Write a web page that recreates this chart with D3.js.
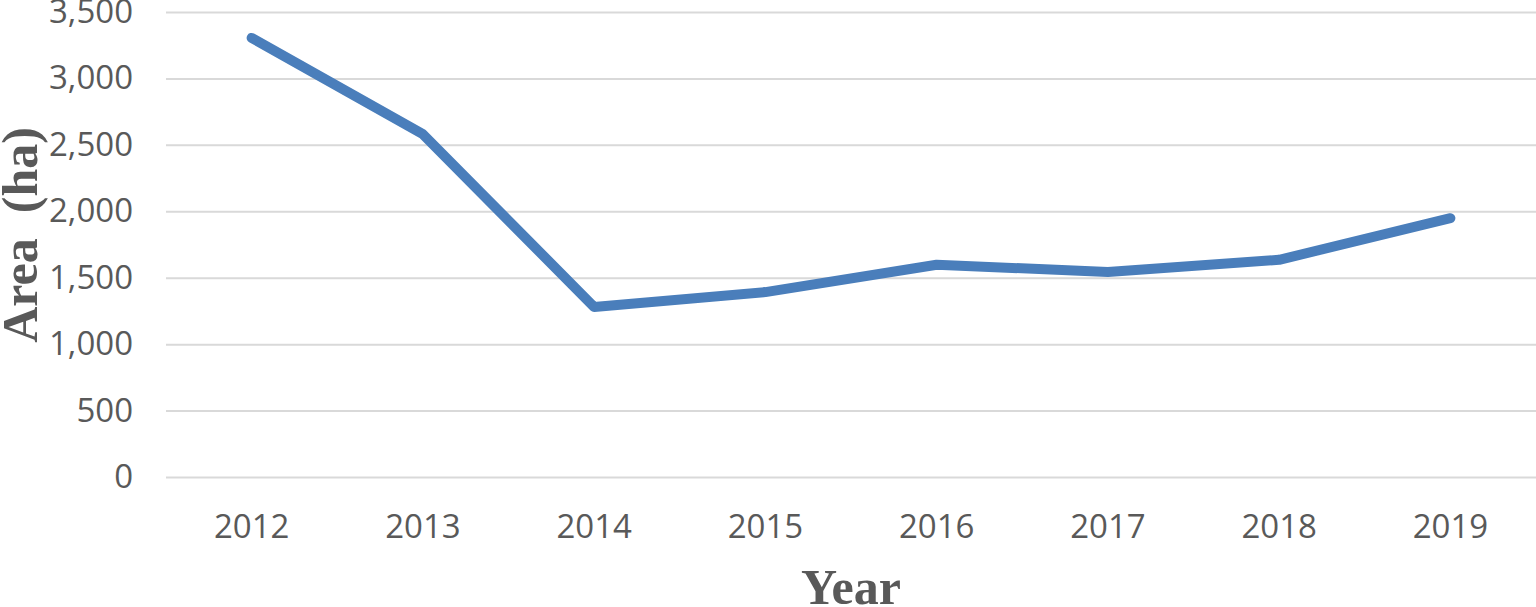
<!DOCTYPE html>
<html>
<head>
<meta charset="utf-8">
<script src="https://cdn.jsdelivr.net/npm/d3@7"></script>
<style>
  body { margin: 0; background: #fff; }
  svg { display: block; }
</style>
</head>
<body>
<div id="chart"></div>
<script>
var years = ["2012", "2013", "2014", "2015", "2016", "2017", "2018", "2019"];
var areaValues = [3305, 2580, 1280, 1392, 1598, 1543, 1635, 1948];
var yTicks = [0, 500, 1000, 1500, 2000, 2500, 3000, 3500];

var width = 1536, height = 607;
var margin = {top: 12, right: 0, bottom: 130, left: 166};
var innerW = width - margin.left - margin.right,
    innerH = height - margin.top - margin.bottom;

var svg = d3.select("#chart")
    .append("svg")
    .attr("width", width)
    .attr("height", height);

var g = svg.append("g")
    .attr("transform", "translate(" + margin.left + "," + margin.top + ")");

var x = d3.scaleBand().domain(years).range([0, innerW]);
var y = d3.scaleLinear().domain([0, 3500]).range([innerH, 0]);
var fmt = d3.format(",");

// gridlines + y labels
var yAxis = g.append("g")
    .attr("class", "y-axis")
    .call(d3.axisLeft(y).tickValues(yTicks).tickSize(-innerW).tickPadding(33).tickFormat(fmt));
yAxis.select(".domain").remove();
yAxis.selectAll(".tick line")
    .attr("stroke", "#d9d9d9")
    .attr("stroke-width", 2);
yAxis.selectAll(".tick text")
    .attr("fill", "#595959")
    .style("font-family", "'Open Sans', sans-serif")
    .style("font-size", "33px");

// x labels
var xAxis = g.append("g")
    .attr("transform", "translate(0," + innerH + ")")
    .call(d3.axisBottom(x).tickSize(0).tickPadding(38));
xAxis.select(".domain").remove();
xAxis.selectAll(".tick text")
    .attr("fill", "#595959")
    .style("font-family", "'Open Sans', sans-serif")
    .style("font-size", "33px");

// the line
var line = d3.line()
    .x(function (d, i) { return x(years[i]) + x.bandwidth() / 2; })
    .y(function (d) { return y(d); });

g.append("path")
    .datum(areaValues)
    .attr("d", line)
    .attr("fill", "none")
    .attr("stroke", "#4A7EBB")
    .attr("stroke-width", 10)
    .attr("stroke-linecap", "round")
    .attr("stroke-linejoin", "round");

// axis titles
svg.append("text")
    .attr("transform", "translate(37," + 235 + ") rotate(-90)")
    .attr("text-anchor", "middle")
    .attr("fill", "#595959")
    .style("font-family", "'Liberation Serif', 'Times New Roman', serif")
    .style("font-weight", "bold")
    .style("font-size", "50px")
    .style("white-space", "pre")
    .text("Area  (ha)");

svg.append("text")
    .attr("x", margin.left + innerW / 2)
    .attr("y", 604)
    .attr("text-anchor", "middle")
    .attr("fill", "#595959")
    .style("font-family", "'Liberation Serif', 'Times New Roman', serif")
    .style("font-weight", "bold")
    .style("font-size", "50px")
    .text("Year");
</script>
</body>
</html>
